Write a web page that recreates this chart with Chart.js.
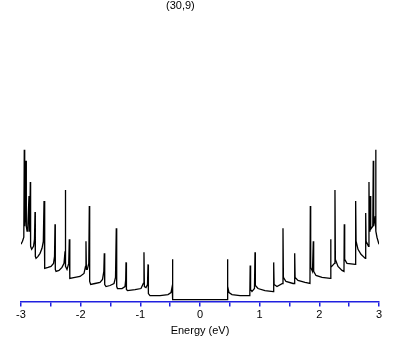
<!DOCTYPE html>
<html lang="en">
<head>
  <meta charset="UTF-8">
  <title>(30,9) DOS</title>
  <style>
    body {
      margin: 0;
      background: #fff;
      font-family: "Liberation Sans", Arial, sans-serif;
    }
    #wrap {
      position: relative;
      width: 409px;
      height: 345px;
    }
    #title {
      position: absolute;
      left: 166px;
      top: -1px;
      font-size: 11px;
      color: #000;
    }
  </style>
</head>
<body>
  <div id="wrap">
    <canvas id="chart" width="409" height="345"></canvas>
    <div id="title">(30,9)</div>
  </div>

  <script src="https://cdn.jsdelivr.net/npm/chart.js"></script>
  <script>
    // energy (eV) and density of states (arb. units)
    const energy = [
      -3.000, -2.975, -2.953, -2.945, -2.938, -2.928, -2.916, -2.911, -2.899, -2.888,
      -2.866, -2.861, -2.852, -2.844, -2.839, -2.821, -2.790, -2.774, -2.765, -2.760,
      -2.748, -2.715, -2.681, -2.648, -2.626, -2.614, -2.608, -2.598, -2.547, -2.497,
      -2.455, -2.438, -2.430, -2.425, -2.413, -2.363, -2.313, -2.279, -2.262, -2.257,
      -2.251, -2.229, -2.200, -2.190, -2.185, -2.179, -2.095, -2.011, -1.944, -1.919,
      -1.911, -1.904, -1.889, -1.864, -1.855, -1.849, -1.832, -1.760, -1.676, -1.634,
      -1.612, -1.604, -1.597, -1.575, -1.508, -1.441, -1.416, -1.403, -1.396, -1.383,
      -1.307, -1.257, -1.245, -1.240, -1.233, -1.215, -1.089, -0.989, -0.950, -0.939,
      -0.932, -0.905, -0.880, -0.871, -0.865, -0.838, -0.670, -0.536, -0.486, -0.466,
      -0.461, -0.456,
      0.456, 0.461, 0.466, 0.486, 0.536, 0.670, 0.835, 0.841, 0.848, 0.871,
      0.913, 0.922, 0.928, 0.972, 1.089, 1.227, 1.235, 1.242, 1.290, 1.383,
      1.391, 1.398, 1.441, 1.559, 1.580, 1.587, 1.594, 1.642, 1.760, 1.843,
      1.849, 1.855, 1.885, 1.899, 1.905, 1.944, 2.045, 2.182, 2.190, 2.195,
      2.254, 2.262, 2.269, 2.313, 2.380, 2.413, 2.418, 2.425, 2.463, 2.603,
      2.609, 2.616, 2.648, 2.698, 2.770, 2.777, 2.784, 2.824, 2.832, 2.839,
      2.849, 2.854, 2.861, 2.896, 2.904, 2.911, 2.938, 2.945, 2.949, 2.966,
      2.990, 3.000
    ];
    const dos = [
      0.55, 0.58, 0.62, 1.49, 0.73, 0.83, 1.38, 0.73, 0.68, 0.70,
      1.03, 0.68, 0.73, 1.17, 0.53, 0.50, 0.53, 0.60, 0.87, 0.43,
      0.41, 0.43, 0.46, 0.51, 0.58, 0.98, 0.36, 0.31, 0.32, 0.33,
      0.36, 0.43, 0.75, 0.30, 0.28, 0.29, 0.32, 0.36, 0.48, 1.09,
      0.33, 0.30, 0.36, 0.60, 0.23, 0.21, 0.22, 0.23, 0.26, 0.33,
      0.58, 0.30, 0.30, 0.36, 0.93, 0.18, 0.15, 0.16, 0.17, 0.20,
      0.28, 0.46, 0.15, 0.13, 0.14, 0.16, 0.22, 0.71, 0.13, 0.11,
      0.11, 0.13, 0.20, 0.37, 0.10, 0.09, 0.10, 0.11, 0.16, 0.47,
      0.13, 0.12, 0.15, 0.35, 0.06, 0.04, 0.04, 0.05, 0.07, 0.13,
      0.40, 0.00,
      0.00, 0.40, 0.13, 0.07, 0.05, 0.04, 0.04, 0.34, 0.10, 0.08,
      0.11, 0.47, 0.14, 0.11, 0.09, 0.08, 0.37, 0.15, 0.13, 0.16,
      0.71, 0.22, 0.18, 0.16, 0.16, 0.46, 0.22, 0.19, 0.17, 0.16,
      0.93, 0.32, 0.28, 0.58, 0.28, 0.24, 0.22, 0.21, 0.60, 0.32,
      0.36, 1.09, 0.40, 0.33, 0.29, 0.28, 0.75, 0.40, 0.36, 0.35,
      0.98, 0.58, 0.50, 0.45, 0.41, 0.86, 0.58, 0.53, 1.17, 0.68,
      0.70, 1.03, 0.70, 0.73, 1.38, 0.73, 0.83, 1.49, 0.68, 0.62,
      0.57, 0.55
    ];
    const tickValues = [-3, -2.5, -2, -1.5, -1, -0.5, 0, 0.5, 1, 1.5, 2, 2.5, 3];
    const tickLabels = ['-3', '-2', '-1', '0', '1', '2', '3'];

    const axisBlue = '#2020e0';
    const points = energy.map((e, i) => ({ x: e, y: dos[i] }));

    new Chart(document.getElementById('chart').getContext('2d'), {
      type: 'line',
      data: {
        datasets: [{
          data: points,
          borderColor: '#000',
          borderWidth: 1.3,
          pointRadius: 0,
          tension: 0,
          fill: false
        }]
      },
      options: {
        responsive: false,
        animation: false,
        events: [],
        layout: {
          padding: { left: 21, right: 30, top: 20, bottom: 3 }
        },
        plugins: {
          legend: { display: false },
          tooltip: { enabled: false }
        },
        scales: {
          x: {
            type: 'linear',
            min: -3,
            max: 3,
            afterBuildTicks: (axis) => {
              axis.ticks = tickValues.map(v => ({ value: v }));
            },
            ticks: {
              autoSkip: false,
              maxRotation: 0,
              padding: 2,
              color: '#000',
              font: { family: '"Liberation Sans", Arial, sans-serif', size: 11 },
              callback: (v) => Number.isInteger(v) ? tickLabels[v + 3] : ''
            },
            grid: {
              drawOnChartArea: false,
              drawTicks: true,
              tickLength: 5,
              color: axisBlue,
              lineWidth: 1.5
            },
            border: { color: axisBlue, width: 1.5 },
            title: {
              display: true,
              text: 'Energy (eV)',
              color: '#000',
              font: { family: '"Liberation Sans", Arial, sans-serif', size: 11 },
              padding: { top: 1, bottom: 4 }
            }
          },
          y: {
            display: false,
            min: -0.02,
            max: 2.78
          }
        }
      }
    });
  </script>
</body>
</html>
